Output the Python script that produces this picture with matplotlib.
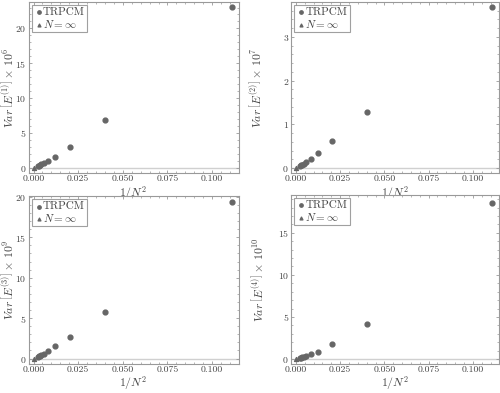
import matplotlib
matplotlib.use("Agg")
from matplotlib import pyplot as plt
from matplotlib.ticker import AutoMinorLocator
import numpy as np

plt.rcParams['font.family'] = 'serif'
plt.rcParams['font.serif'] = ['cmr10', 'DejaVu Serif']
plt.rcParams['mathtext.fontset'] = 'cm'
plt.rcParams['axes.formatter.use_mathtext'] = True

# 1/N^2 for N = 3,5,7,...,21
x = [0.1111, 0.0400, 0.0204, 0.0123, 0.0083, 0.0059, 0.0044, 0.0035, 0.0028, 0.0023]
var1 = [23.1, 6.9, 3.0, 1.55, 0.92, 0.62, 0.46, 0.35, 0.28, 0.23]
var2 = [3.68, 1.28, 0.62, 0.34, 0.20, 0.14, 0.10, 0.08, 0.06, 0.05]
var3 = [19.4, 5.8, 2.65, 1.5, 0.9, 0.6, 0.45, 0.35, 0.28, 0.22]
var4 = [18.6, 4.14, 1.74, 0.89, 0.58, 0.40, 0.30, 0.22, 0.17, 0.13]
x_inf = [0.0]
y_inf = [0.0]

series = [var1, var2, var3, var4]
orders = [1, 2, 3, 4]
powers = [6, 7, 9, 10]
ylims = [(-0.75, 23.8), (-0.11, 3.8), (-0.67, 20.1), (-0.58, 19.5)]
yticks = [[0, 5, 10, 15, 20], [0, 1, 2, 3], [0, 5, 10, 15, 20], [0, 5, 10, 15]]

# axes positions in figure fractions (left, bottom, width, height)
pos = [(0.057, 0.560, 0.420, 0.435),
       (0.582, 0.560, 0.416, 0.435),
       (0.057, 0.074, 0.420, 0.427),
       (0.582, 0.074, 0.416, 0.430)]
ylab_x = [-0.064, -0.135, -0.064, -0.125]
xlab_y = [-0.068, -0.068, -0.060, -0.060]

fig = plt.figure(figsize=(5.0, 3.93), dpi=100)
edge = '#999999'
for k in range(4):
    ax = fig.add_axes(pos[k])
    ax.axhline(0, color='#d0d0d0', lw=1.0, zorder=1)
    ax.scatter(x, series[k], s=12, color='#666666', marker='o', label='TRPCM', zorder=3)
    ax.scatter(x_inf, y_inf, s=8, color='#666666', marker='^', label=r'$N=\infty$', zorder=3)
    ax.set_xlim(-0.0028, 0.1148)
    ax.set_ylim(*ylims[k])
    ax.set_xticks([0.0, 0.025, 0.05, 0.075, 0.1])
    ax.set_xticklabels(['0.000', '0.025', '0.050', '0.075', '0.100'])
    ax.set_yticks(yticks[k])
    ax.xaxis.set_minor_locator(AutoMinorLocator(5))
    ax.yaxis.set_minor_locator(AutoMinorLocator(5))
    ax.tick_params(which='both', direction='in', top=True, right=True,
                   color=edge, labelsize=7, labelcolor='#444444', pad=1.5)
    ax.tick_params(which='major', length=2.5, width=0.6)
    ax.tick_params(which='minor', length=1.5, width=0.5)
    for s in ax.spines.values():
        s.set_color(edge)
        s.set_linewidth(0.8)
    ax.set_xlabel(r'$1/N^2$', fontsize=8.5, color='#444444')
    ax.set_ylabel(r'$Var\,\left[E^{(%d)}\right]\times\,10^{%d}$' % (orders[k], powers[k]),
                  fontsize=8.5, color='#444444')
    ax.xaxis.set_label_coords(0.5, xlab_y[k])
    ax.yaxis.set_label_coords(ylab_x[k], 0.5)
    leg = ax.legend(loc='upper left', fontsize=8, handletextpad=0.0, handlelength=0.8,
                    borderpad=0.2, labelspacing=0.05, borderaxespad=0.3,
                    fancybox=False, markerscale=0.7)
    leg.get_frame().set_edgecolor('#888888')
    leg.get_frame().set_linewidth(0.8)
    for t in leg.get_texts():
        t.set_color('#444444')

fig.savefig('out.png', dpi=100)
